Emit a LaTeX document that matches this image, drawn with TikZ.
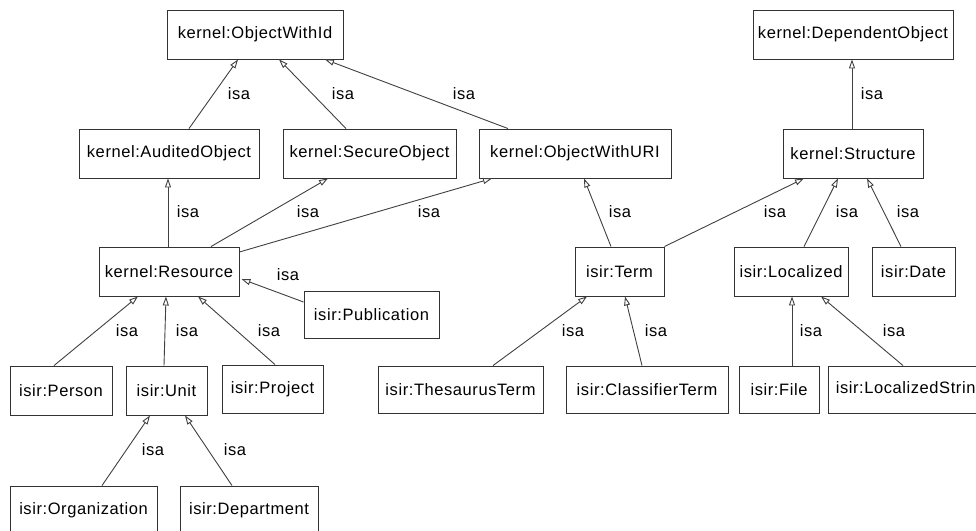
\documentclass[tikz,border=0pt]{standalone}
\usepackage{fontspec}
\setmainfont{Liberation Sans}[LetterSpace=3.5]
\usetikzlibrary{arrows.meta}
\definecolor{edgegray}{HTML}{404040}
\definecolor{boxgray}{HTML}{333333}
\tikzset{
  cls/.style={draw=boxgray, line width=0.9pt, fill=white, rectangle,
    minimum height=49pt, inner sep=0pt, font=\fontsize{16.5}{19}\selectfont},
  isa/.style={draw=edgegray, line width=0.9pt,
    -{Triangle[length=9pt, width=6pt, fill=white]}},
  lbl/.style={inner sep=0pt, font=\fontsize{16.5}{19}\selectfont}
}
\begin{document}
\begin{tikzpicture}[x=1pt, y=-1pt]
\useasboundingbox (0,0) rectangle (976,530);
\clip (0,0) rectangle (976,530);

% kernel classes
\node[cls, minimum width=176pt] (oid)  at (255,34.5)   {kernel:ObjectWithId};
\node[cls, minimum width=200pt] (dep)  at (853,34.5)   {kernel:DependentObject};
\node[cls, minimum width=180pt] (aud)  at (169,153.5)  {kernel:AuditedObject};
\node[cls, minimum width=173pt] (sec)  at (369.5,153.5){kernel:SecureObject};
\node[cls, minimum width=192pt] (uri)  at (575,153.5)  {kernel:ObjectWithURI};
\node[cls, minimum width=140pt] (str)  at (853,153.5)  {kernel:Structure};
\node[cls, minimum width=140pt] (res)  at (169,271.5)  {kernel:Resource};

% isir classes
\node[cls, minimum width=135pt, minimum height=47pt] (pub) at (371.5,314.5) {isir:Publication};
\node[cls, minimum width=89pt]  (term) at (619.5,271.5) {isir:Term};
\node[cls, minimum width=114pt] (loc)  at (791,271.5)   {isir:Localized};
\node[cls, minimum width=83pt]  (date) at (913.5,271.5) {isir:Date};
\node[cls, minimum width=102pt] (per)  at (61,390.5)    {isir:Person};
\node[cls, minimum width=81pt]  (unit) at (166.5,390.5) {isir:Unit};
\node[cls, minimum width=101pt, minimum height=48pt] (proj) at (272.5,389) {isir:Project};
\node[cls, minimum width=165pt, minimum height=47pt] (the)  at (460.5,389.5) {isir:ThesaurusTerm};
\node[cls, minimum width=162pt, minimum height=47pt] (cla)  at (647,389.5)   {isir:ClassifierTerm};
\node[cls, minimum width=80pt,  minimum height=47pt] (file) at (779,389.5)   {isir:File};
\node[cls, minimum width=165pt, minimum height=47pt] (lstr) at (910.5,389.5) {isir:LocalizedString};
\node[cls, minimum width=147pt] (org)  at (83.5,510.5) {isir:Organization};
\node[cls, minimum width=138pt] (dept) at (249,510.5)  {isir:Department};

% generalisation links
\draw[isa] ([xshift=20pt]aud.north)   -- ([xshift=-17pt]oid.south);
\draw[isa] ([xshift=-23.5pt]sec.north) -- ([xshift=24pt]oid.south);
\draw[isa] ([xshift=-67pt]uri.north)  -- ([xshift=70pt]oid.south);
\draw[isa] ([xshift=-1pt]str.north)   -- ([xshift=-1pt]dep.south);
\draw[isa] ([xshift=-1pt]res.north)   -- ([xshift=-1pt]aud.south);
\draw[isa] ([xshift=42pt]res.north)   -- ([xshift=-41.5pt]sec.south);
\draw[isa] ([yshift=19.5pt]res.east)  -- ([xshift=-83pt]uri.south);
\draw[isa] ([yshift=12.5pt]pub.west)  -- ([xshift=2pt,yshift=-7.5pt]res.east);
\draw[isa] ([xshift=-7pt]per.north)   -- ([xshift=-31pt]res.south);
\draw[isa] ([xshift=-2.5pt]unit.north) -- ([xshift=-3pt]res.south);
\draw[isa] ([xshift=2.5pt]proj.north) -- ([xshift=29pt]res.south);
\draw[isa] ([xshift=-8.5pt]term.north) -- ([xshift=9pt]uri.south);
\draw[isa] (term.north east)          -- ([xshift=-49pt]str.south);
\draw[isa] ([xshift=13pt]loc.north)   -- ([xshift=-15pt]str.south);
\draw[isa] ([xshift=-12.5pt]date.north) -- ([xshift=14pt]str.south);
\draw[isa] ([xshift=32.5pt]the.north) -- ([xshift=-32.5pt]term.south);
\draw[isa] ([xshift=-5pt]cla.north)   -- ([xshift=5.5pt]term.south);
\draw[isa] ([xshift=13pt]file.north)  -- ([xshift=1pt]loc.south);
\draw[isa] ([xshift=-7.5pt]lstr.north) -- ([xshift=30pt]loc.south);
\draw[isa] ([xshift=18.5pt]org.north) -- ([xshift=-16.5pt]unit.south);
\draw[isa] ([xshift=-17pt]dept.north) -- ([xshift=18.5pt]unit.south);

% link labels
\node[lbl] (l1)  at (239,94)  {isa};
\node[lbl] (l2)  at (343,94)  {isa};
\node[lbl] (l3)  at (464,94)  {isa};
\node[lbl] (l4)  at (872,94)  {isa};
\node[lbl] (l5)  at (188,212) {isa};
\node[lbl] (l6)  at (308,212) {isa};
\node[lbl] (l7)  at (429,212) {isa};
\node[lbl] (l8)  at (288,275) {isa};
\node[lbl] (l9)  at (127,331) {isa};
\node[lbl] (l10) at (187,331) {isa};
\node[lbl] (l11) at (269,331) {isa};
\node[lbl] (l12) at (620,212) {isa};
\node[lbl] (l13) at (775,212) {isa};
\node[lbl] (l14) at (847,212) {isa};
\node[lbl] (l15) at (908,212) {isa};
\node[lbl] (l16) at (573,331) {isa};
\node[lbl] (l17) at (656,331) {isa};
\node[lbl] (l18) at (811,331) {isa};
\node[lbl] (l19) at (894,331) {isa};
\node[lbl] (l20) at (153,450) {isa};
\node[lbl] (l21) at (235,450) {isa};
\end{tikzpicture}
\end{document}
